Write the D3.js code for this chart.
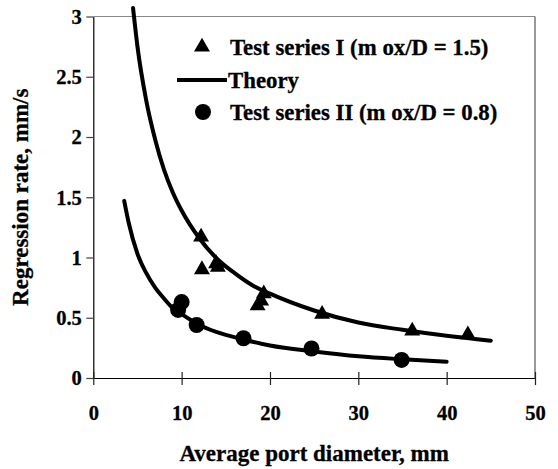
<!DOCTYPE html>
<html>
<head>
<meta charset="utf-8">
<script src="https://cdn.jsdelivr.net/npm/d3@7"></script>
<style>
  body { margin: 0; background: #fff; }
  svg text { font-family: "Liberation Serif", "Times New Roman", serif; font-weight: bold; stroke: #000; stroke-width: 0.3px; }
</style>
</head>
<body>
<svg id="canvas" width="558" height="469"></svg>
<script>
// values
const xTicks = [0, 10, 20, 30, 40, 50];
const yTicks = [0, 0.5, 1, 1.5, 2, 2.5, 3];

// test series I (triangles)
const seriesIx = [12.2, 12.3, 13.9, 14.1, 18.6, 19.0, 19.3, 25.9, 36.1, 42.4];
const seriesIy = [1.17, 0.90, 0.95, 0.92, 0.60, 0.64, 0.70, 0.53, 0.39, 0.36];

// test series II (circles)
const seriesIIx = [9.6, 10.0, 11.7, 17.0, 24.7, 34.9];
const seriesIIy = [0.565, 0.63, 0.44, 0.33, 0.245, 0.15];

// theory curves, traced
const theoryIx = [4.5, 5, 6, 7, 8, 9, 10, 12, 14, 16, 18, 20, 25, 30, 35, 40, 45];
const theoryIy = [3.07, 2.75, 2.30, 1.98, 1.73, 1.54, 1.39, 1.16, 0.99, 0.87, 0.77, 0.70, 0.56, 0.46, 0.40, 0.35, 0.31];
const theoryIIx = [3.5, 4, 5, 6, 7, 8, 9, 10, 12, 14, 17, 20, 25, 30, 35, 40];
const theoryIIy = [1.47, 1.29, 1.03, 0.87, 0.75, 0.66, 0.58, 0.53, 0.44, 0.38, 0.32, 0.27, 0.22, 0.18, 0.155, 0.135];

const legendLabels = ['Test series I (m ox/D = 1.5)', 'Theory', 'Test series II (m ox/D = 0.8)'];

const svg = d3.select('#canvas');
const pLeft = 93.3, pRight = 535, pTop = 16.5, pBottom = 378;

const x = d3.scaleLinear().domain([0, 50]).range([pLeft, pRight]);
const y = d3.scaleLinear().domain([0, 3]).range([pBottom, pTop]);

// frame (top and right, grey)
svg.append('line').attr('x1', pLeft).attr('x2', pRight).attr('y1', pTop).attr('y2', pTop)
  .attr('stroke', '#888').attr('stroke-width', 1.2);
svg.append('line').attr('x1', pRight).attr('x2', pRight).attr('y1', pTop).attr('y2', pBottom)
  .attr('stroke', '#555').attr('stroke-width', 1.2);

// y axis
const gy = svg.append('g')
  .attr('transform', `translate(${pLeft},0)`)
  .call(d3.axisLeft(y).tickValues(yTicks).tickSize(7).tickSizeOuter(0).tickFormat(d3.format('')))
  .attr('font-family', null);
gy.select('.domain').attr('stroke', '#000').attr('stroke-width', 1.2);
gy.selectAll('.tick line').attr('stroke', '#444').attr('stroke-width', 1.2);
gy.selectAll('.tick text').attr('font-size', 20.5).attr('fill', '#000').attr('x', -11.5).attr('dy', '0.34em');

// x axis, ticks cross the line
const gx = svg.append('g')
  .attr('transform', `translate(0,${pBottom})`)
  .call(d3.axisBottom(x).tickValues(xTicks).tickSize(7).tickSizeOuter(0).tickFormat(d3.format('')))
  .attr('font-family', null);
gx.select('.domain').attr('stroke', '#000').attr('stroke-width', 1.2);
gx.selectAll('.tick line').attr('y1', -6).attr('stroke', '#222').attr('stroke-width', 1.2);
gx.selectAll('.tick text').attr('font-size', 20.5).attr('fill', '#000').attr('y', 42).attr('dy', 0);

// axis titles
svg.append('text')
  .attr('x', (pLeft + pRight) / 2).attr('y', 461)
  .attr('text-anchor', 'middle').attr('font-size', 23)
  .text('Average port diameter, mm');
svg.append('text')
  .attr('transform', `translate(28,${(pTop + pBottom) / 2}) rotate(-90)`)
  .attr('text-anchor', 'middle').attr('font-size', 23)
  .text('Regression rate, mm/s');

// theory curves
const line = d3.line().x(d => x(d[0])).y(d => y(d[1])).curve(d3.curveMonotoneX);
[[theoryIx, theoryIy], [theoryIIx, theoryIIy]].forEach(([xs, ys]) => {
  svg.append('path')
    .datum(d3.zip(xs, ys))
    .attr('d', line)
    .attr('fill', 'none')
    .attr('stroke', '#000')
    .attr('stroke-width', 4)
    .attr('stroke-linecap', 'round');
});

const tri = d3.symbol(d3.symbolTriangle, 110);
const circ = d3.symbol(d3.symbolCircle, 201);

svg.selectAll('path.s1')
  .data(d3.zip(seriesIx, seriesIy))
  .enter()
  .append('path')
  .attr('class', 's1')
  .attr('d', tri)
  .attr('transform', d => `translate(${x(d[0])},${y(d[1])})`)
  .attr('fill', '#000');

svg.selectAll('path.s2')
  .data(d3.zip(seriesIIx, seriesIIy))
  .enter()
  .append('path')
  .attr('class', 's2')
  .attr('d', circ)
  .attr('transform', d => `translate(${x(d[0])},${y(d[1])})`)
  .attr('fill', '#000');

// legend
const lg = svg.append('g');
lg.append('path').attr('d', tri).attr('transform', 'translate(202,47)').attr('fill', '#000');
lg.append('line').attr('x1', 177).attr('x2', 227).attr('y1', 80).attr('y2', 80)
  .attr('stroke', '#000').attr('stroke-width', 4);
lg.append('path').attr('d', circ).attr('transform', 'translate(203,112)').attr('fill', '#000');
lg.selectAll('text')
  .data(legendLabels)
  .enter()
  .append('text')
  .attr('x', (d, i) => i === 1 ? 228 : 230)
  .attr('y', (d, i) => [55, 88, 120][i])
  .attr('font-size', 22.8)
  .text(d => d);
</script>
</body>
</html>
